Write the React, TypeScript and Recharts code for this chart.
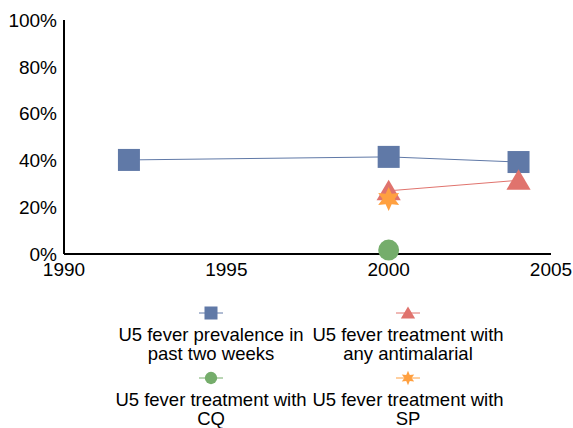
import React from 'react';
import { LineChart, Line, XAxis, YAxis, Legend } from 'recharts';

const xTicks = [1990, 1995, 2000, 2005];
const yTicks = [0, 20, 40, 60, 80, 100];

const prevalence = [
    { year: 1992, value: 40.2 },
    { year: 2000, value: 41.5 },
    { year: 2004, value: 39.3 },
];
const antimalarial = [
    { year: 2000, value: 27 },
    { year: 2004, value: 31.5 },
];
const cq = [{ year: 2000, value: 1.7 }];
const sp = [{ year: 2000, value: 23.5 }];

const seriesNames = [
    'U5 fever prevalence in past two weeks',
    'U5 fever treatment with any antimalarial',
    'U5 fever treatment with CQ',
    'U5 fever treatment with SP',
];
// where the legend text wraps, as in the picture
const legendLines = [
    ['U5 fever prevalence in', 'past two weeks'],
    ['U5 fever treatment with', 'any antimalarial'],
    ['U5 fever treatment with', 'CQ'],
    ['U5 fever treatment with', 'SP'],
];

const BLUE = '#6079A7';
const RED = '#E0736D';
const GREEN = '#75AD6B';
const ORANGE = '#FFA040';

type ShapeKind = 'square' | 'triangle' | 'circle' | 'star';

const Marker = ({ cx, cy, kind, color, size }: { cx: number; cy: number; kind: ShapeKind; color: string; size: number }) => {
    const h = size / 2;
    if (kind === 'square') {
        return <rect x={cx - h} y={cy - h} width={size} height={size} fill={color} />;
    }
    if (kind === 'triangle') {
        const pts = `${cx},${cy - h} ${cx + h * 1.1},${cy + h * 0.85} ${cx - h * 1.1},${cy + h * 0.85}`;
        return <polygon points={pts} fill={color} />;
    }
    if (kind === 'circle') {
        return <circle cx={cx} cy={cy} r={h * 0.95} fill={color} />;
    }
    const pts: string[] = [];
    for (let i = 0; i < 12; i++) {
        const a = (-90 + i * 30) * Math.PI / 180;
        const r = i % 2 === 0 ? h * 1.1 : h * 0.55;
        pts.push(`${cx + r * Math.cos(a)},${cy + r * Math.sin(a)}`);
    }
    return <polygon points={pts.join(' ')} fill={color} />;
};

const dotFor = (kind: ShapeKind, color: string) => (props: any) => {
    const { cx, cy, key, index } = props;
    return <Marker key={key ?? `${kind}-${index}`} cx={cx} cy={cy} kind={kind} color={color} size={22} />;
};

const legendItems: { kind: ShapeKind; color: string }[] = [
    { kind: 'square', color: BLUE },
    { kind: 'triangle', color: RED },
    { kind: 'circle', color: GREEN },
    { kind: 'star', color: ORANGE },
];

const renderLegend = () => (
    <div style={{ height: 127, display: 'grid', gridTemplateColumns: '197px 197px', justifyContent: 'center', paddingLeft: 68, fontSize: 18.5, lineHeight: '20px', color: '#000' }}>
        {legendItems.map((it, i) => (
            <div key={i} style={{ textAlign: 'center', height: 65 }}>
                <svg width={24} height={24} style={{ display: 'block', margin: '0 auto' }}>
                    <line x1={0} y1={12} x2={24} y2={12} stroke={it.color} strokeWidth={1} />
                    <Marker cx={12} cy={12} kind={it.kind} color={it.color} size={13} />
                </svg>
                <div style={{ whiteSpace: 'nowrap' }}>{legendLines[i][0]}</div>
                <div style={{ whiteSpace: 'nowrap', lineHeight: '17px' }}>{legendLines[i][1]}</div>
            </div>
        ))}
    </div>
);

export default function App() {
    return (
        <div style={{ position: 'absolute', left: 0, top: 0, fontFamily: '"Liberation Sans", Arial, sans-serif' }}>
            <LineChart width={573} height={428} margin={{ top: 20, right: 22, left: 0, bottom: 0 }}>
                <XAxis
                    dataKey="year"
                    type="number"
                    domain={[1990, 2005]}
                    ticks={xTicks}
                    allowDataOverflow
                    height={47}
                    tickLine={false}
                    axisLine={{ stroke: '#000', strokeWidth: 2 }}
                    tick={{ fontSize: 19, fill: '#000' }}
                    tickMargin={3}
                    interval={0}
                />
                <XAxis xAxisId="top" orientation="top" type="number" domain={[1990, 2005]} height={0} tick={false} tickLine={false} axisLine={{ stroke: '#000', strokeWidth: 1.5 }} />
                <YAxis
                    type="number"
                    domain={[0, 100]}
                    ticks={yTicks}
                    width={64}
                    tickLine={false}
                    axisLine={{ stroke: '#000', strokeWidth: 2 }}
                    tick={{ fontSize: 19, fill: '#000' }}
                    tickFormatter={(v: number) => `${v}%`}
                    tickMargin={1}
                    interval={0}
                />
                <YAxis yAxisId="right" orientation="right" type="number" domain={[0, 100]} width={0} tick={false} tickLine={false} axisLine={{ stroke: '#000', strokeWidth: 1.5 }} />
                <Legend verticalAlign="bottom" content={renderLegend} />
                <Line data={prevalence} dataKey="value" name={seriesNames[0]} stroke={BLUE} strokeWidth={1} dot={dotFor('square', BLUE)} activeDot={false} isAnimationActive={false} />
                <Line data={antimalarial} dataKey="value" name={seriesNames[1]} stroke={RED} strokeWidth={1} dot={dotFor('triangle', RED)} activeDot={false} isAnimationActive={false} />
                <Line data={cq} dataKey="value" name={seriesNames[2]} stroke={GREEN} strokeWidth={1} dot={dotFor('circle', GREEN)} activeDot={false} isAnimationActive={false} />
                <Line data={sp} dataKey="value" name={seriesNames[3]} stroke={ORANGE} strokeWidth={1} dot={dotFor('star', ORANGE)} activeDot={false} isAnimationActive={false} />
            </LineChart>
        </div>
    );
}
